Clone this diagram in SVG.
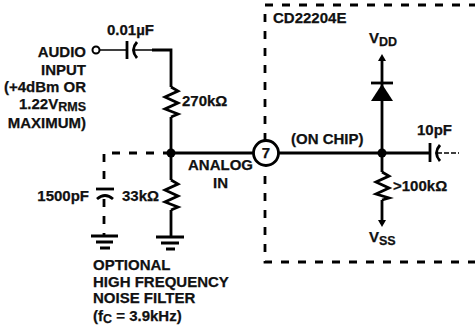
<svg xmlns="http://www.w3.org/2000/svg" width="475" height="327" viewBox="0 0 475 327">
<style>
text{font-family:"Liberation Sans",Arial,sans-serif;font-weight:700;font-size:15px;fill:#111;stroke:#111;stroke-width:.25}
.e{text-anchor:end}
.s{font-size:12.5px}
.w{fill:none;stroke:#000;stroke-width:2.8;stroke-linejoin:miter}
.t{fill:none;stroke:#000;stroke-width:1.6}
.d{fill:none;stroke:#000;stroke-width:2.8;stroke-dasharray:8 9}
.f{fill:#000}
</style>
<rect width="475" height="327" fill="#fff"/>
<g id="connectors">
<path class="t" d="M100 50H126M133 50H152"/>
<path class="w" d="M152 50H171V87M171 117V153H253M279 153H430M382 60V153M382 153V172M382 200V224M171 153V180M171 210V236"/>
<path class="d" d="M265 141V5H475"/>
<path class="d" d="M265 176V262H475"/>
<path class="d" d="M171 153H104V186"/>
<path class="d" d="M104 199V236" stroke-dasharray="6 7"/>
<path class="t" stroke-dasharray="5 2" d="M437 153H459"/>
</g>
<g id="audio-input">
<circle cx="96" cy="50" r="3.5" fill="#fff" stroke="#000" stroke-width="2"/>
<text class="e" x="86" y="57">AUDIO</text>
<text class="e" x="86" y="75">INPUT</text>
<text class="e" x="86" y="92">(+4dBm OR</text>
<text class="e" x="86" y="109">1.22V<tspan class="s" dy="2">RMS</tspan></text>
<text class="e" x="86" y="128">MAXIMUM)</text>
</g>
<g id="c1">
<path class="w" d="M127 41V59"/>
<path class="w" d="M137 42Q130 50 137 58"/>
<text x="107" y="35">0.01µF</text>
</g>
<g id="r1">
<path class="w" d="M171 87L178 91L165 97L178 103L165 109L178 114L171 117"/>
<text x="182" y="106">270kΩ</text>
</g>
<g id="junction1"><circle class="f" cx="171" cy="153" r="4.5"/></g>
<g id="analog-in">
<text x="188" y="170">ANALOG</text>
<text x="213" y="188">IN</text>
</g>
<g id="pin7">
<circle cx="266" cy="153" r="12.5" fill="#fff" stroke="#000" stroke-width="2.8"/>
<text x="266" y="158" text-anchor="middle">7</text>
</g>
<g id="chip">
<text x="273" y="23">CD22204E</text>
<text x="291" y="144">(ON CHIP)</text>
</g>
<g id="vdd">
<path class="f" d="M382 54L386 61H378Z"/>
<text x="369" y="43">V<tspan class="s" dy="3">DD</tspan></text>
</g>
<g id="diode">
<path class="w" d="M371 83H393"/>
<path class="f" d="M382 84L393 101H371Z"/>
</g>
<g id="junction2"><circle class="f" cx="382" cy="153" r="4.5"/></g>
<g id="r3">
<path class="w" d="M382 172L389 176L376 182L389 188L376 194L389 198L382 200"/>
<text x="393" y="191">&gt;100kΩ</text>
</g>
<g id="vss">
<path class="f" d="M382 227L386 220H378Z"/>
<text x="369" y="242">V<tspan class="s" dy="3">SS</tspan></text>
</g>
<g id="c3">
<path class="w" d="M430 143V162"/>
<path class="w" d="M440 145Q433 153 440 161"/>
<text x="417" y="135">10pF</text>
</g>
<g id="c2">
<path class="w" d="M96 189H114"/>
<path class="w" d="M97 199Q105 192 113 199"/>
<text class="e" x="89" y="201">1500pF</text>
</g>
<g id="r2">
<path class="w" d="M171 180L178 184L165 190L178 196L165 202L178 207L171 210"/>
<text x="122" y="201">33kΩ</text>
</g>
<g id="gnd1">
<path class="w" d="M91 236H118M96 242H113M100 248H110"/>
</g>
<g id="gnd2">
<path class="w" d="M156 237H184M161 243H179M166 249H175"/>
</g>
<g id="filter-note">
<text x="93" y="270">OPTIONAL</text>
<text x="93" y="287">HIGH FREQUENCY</text>
<text x="93" y="303">NOISE FILTER</text>
<text x="93" y="321">(f<tspan class="s" dy="2">C</tspan><tspan dy="-2"> = 3.9kHz)</tspan></text>
</g>
</svg>
